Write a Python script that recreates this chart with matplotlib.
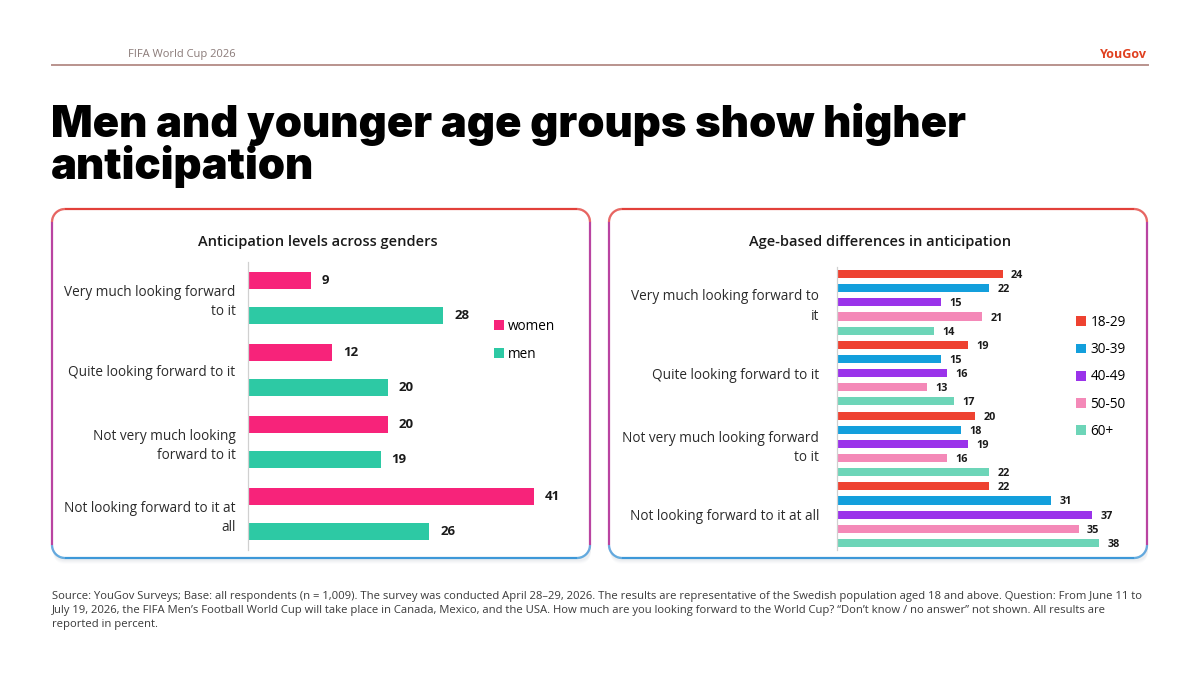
#!/usr/bin/env python3
"""YouGov style figure: anticipation of the 2026 World Cup by gender and age."""

import numpy as np
import matplotlib
matplotlib.use("Agg")
import matplotlib.pyplot as plt
from matplotlib.collections import LineCollection
from matplotlib.colors import LinearSegmentedColormap
from matplotlib.patches import FancyBboxPatch

# ---------------------------------------------------------------------------
# Data
# ---------------------------------------------------------------------------
gender_cats = [
    "Very much looking forward\nto it",
    "Quite looking forward to it",
    "Not very much looking\nforward to it",
    "Not looking forward to it at\nall",
]
women = [9, 12, 20, 41]
men = [28, 20, 19, 26]

age_cats = [
    "Very much looking forward to\nit",
    "Quite looking forward to it",
    "Not very much looking forward\nto it",
    "Not looking forward to it at all",
]
age_groups = ["18-29", "30-39", "40-49", "50-50", "60+"]
age_values = [
    [24, 19, 20, 22],   # 18-29
    [22, 15, 18, 31],   # 30-39
    [15, 16, 19, 37],   # 40-49
    [21, 13, 16, 35],   # 50-50
    [14, 17, 22, 38],   # 60+
]

gender_colors = ["#F7237A", "#2DC9A4"]
age_colors = ["#EE4231", "#139FDC", "#9A33EA", "#F489B8", "#6DD5B8"]

footnote = [
    "Source: YouGov Surveys; Base: all respondents (n = 1,009). The survey was conducted April 28\u201329, 2026. "
    "The results are representative of the Swedish population aged 18 and above. Question: From June 11 to",
    "July 19, 2026, the FIFA Men\u2019s Football World Cup will take place in Canada, Mexico, and the USA. "
    "How much are you looking forward to the World Cup? \u201cDon\u2019t know / no answer\u201d not shown. All results are",
    "reported in percent.",
]

BODY = ["Open Sans", "DejaVu Sans"]
W, H = 1200, 675


def fx(px):
    return px / W


def fy(py):
    return 1 - py / H


fig = plt.figure(figsize=(12, 6.75), dpi=100)
fig.patch.set_facecolor("white")

# -- Background layer in pixel coordinates ----------------------------------
bg = fig.add_axes([0, 0, 1, 1], zorder=0)
bg.set_xlim(0, W)
bg.set_ylim(H, 0)
bg.axis("off")

bg.plot([52, 1148], [65, 65], color="#B9938D", linewidth=1.4)

border_cmap = LinearSegmentedColormap.from_list(
    "border", ["#E2403A", "#D8407A", "#9B48C8", "#3D98D8"])


def rounded_rect_points(x0, y0, x1, y1, r, n=30):
    pts = []
    arcs = [
        (x1 - r, y0 + r, -90, 0),
        (x1 - r, y1 - r, 0, 90),
        (x0 + r, y1 - r, 90, 180),
        (x0 + r, y0 + r, 180, 270),
    ]
    for cx, cy, a0, a1 in arcs:
        for a in np.linspace(np.radians(a0), np.radians(a1), n):
            pts.append((cx + r * np.cos(a), cy + r * np.sin(a)))
    pts.append(pts[0])
    return np.array(pts)


def panel(x0, y0, x1, y1):
    # soft shadow
    for i, a in enumerate([0.05, 0.04, 0.03, 0.02]):
        sh = FancyBboxPatch((x0 + 1, y0 + 3 + i), x1 - x0, y1 - y0,
                            boxstyle="round,pad=0,rounding_size=13",
                            facecolor="#7A8A9A", edgecolor="none", alpha=a,
                            zorder=1)
        bg.add_patch(sh)
    box = FancyBboxPatch((x0, y0), x1 - x0, y1 - y0,
                         boxstyle="round,pad=0,rounding_size=13",
                         facecolor="white", edgecolor="none", zorder=2)
    bg.add_patch(box)
    pts = rounded_rect_points(x0, y0, x1, y1, 13)
    segs = np.stack([pts[:-1], pts[1:]], axis=1)
    ymid = (segs[:, 0, 1] + segs[:, 1, 1]) / 2
    cols = border_cmap((ymid - y0) / (y1 - y0))
    bg.add_collection(LineCollection(segs, colors=cols, linewidths=1.6,
                                     zorder=3))


panel(52, 209, 590, 558)
panel(609, 209, 1147, 558)

# -- Header and title --------------------------------------------------------
fig.text(fx(128), fy(55), "FIFA World Cup 2026", fontsize=8, color="#8A7A78",
         family=BODY, va="center")
fig.text(fx(1147), fy(54), "YouGov", fontsize=9, color="#E0401F",
         fontweight="bold", family=BODY, ha="right", va="center")
fig.text(fx(51), fy(103), "Men and younger age groups show higher\nanticipation",
         fontsize=31.4, fontweight="black", family=["Inter", "DejaVu Sans"],
         color="black", va="top", linespacing=0.98)

# -- Panel titles ------------------------------------------------------------
fig.text(fx(318), fy(242), "Anticipation levels across genders", fontsize=10.5,
         fontweight="semibold", family=BODY, ha="center", va="center",
         color="#1A1A1A")
fig.text(fx(880), fy(242), "Age-based differences in anticipation",
         fontsize=10.5, fontweight="semibold", family=BODY, ha="center",
         va="center", color="#1A1A1A")


def style_axis(ax, cats, pad):
    ax.set_facecolor("none")
    for s in ["top", "right", "bottom"]:
        ax.spines[s].set_visible(False)
    ax.spines["left"].set_color("#D0D0D0")
    ax.spines["left"].set_linewidth(0.9)
    ax.set_xticks([])
    ax.set_yticks(range(len(cats)))
    ax.set_yticklabels(cats, fontsize=9.8, color="#2A2A2A", family=BODY,
                       linespacing=1.4)
    ax.tick_params(axis="y", length=0, pad=pad)
    ax.set_ylim(len(cats) - 0.5, -0.5)


# -- Left chart: gender ------------------------------------------------------
ax1 = fig.add_axes([fx(248), fy(550), fx(293), 288 / H], zorder=5)
y = np.arange(len(gender_cats))
bh = 0.24
off = 0.243
b_w = ax1.barh(y - off, women, height=bh, color=gender_colors[0], label="women")
b_m = ax1.barh(y + off, men, height=bh, color=gender_colors[1], label="men")
for bars in (b_w, b_m):
    ax1.bar_label(bars, padding=8, fontsize=9.5, fontweight="bold",
                  family=BODY, color="#1A1A1A")
ax1.set_xlim(0, 42)
style_axis(ax1, gender_cats, 9)
ax1.legend(loc="upper left", bbox_to_anchor=(fx(494), fy(319)),
           bbox_transform=fig.transFigure, frameon=False,
           prop={"family": BODY, "size": 9.8}, handlelength=0.75,
           handleheight=0.75, handletextpad=0.3, labelspacing=0.95,
           borderaxespad=0, borderpad=0)

# -- Right chart: age --------------------------------------------------------
ax2 = fig.add_axes([fx(837), fy(550), fx(290), 283 / H], zorder=5)
y2 = np.arange(len(age_cats))
bh2 = 0.115
for k, (grp, vals) in enumerate(zip(age_groups, age_values)):
    bars = ax2.barh(y2 + (k - 2) * 0.2, vals, height=bh2, color=age_colors[k],
                    label=grp)
    labels = ax2.bar_label(bars, padding=6, fontsize=7.8, fontweight="bold",
                           family=BODY, color="#1A1A1A")
    for t in labels:
        t.set_va("center_baseline")
ax2.set_xlim(0, 42)
style_axis(ax2, age_cats, 13)
ax2.legend(loc="upper left", bbox_to_anchor=(fx(1076), fy(315)),
           bbox_transform=fig.transFigure, frameon=False,
           prop={"family": BODY, "size": 9.8}, handlelength=0.75,
           handleheight=0.75, handletextpad=0.3, labelspacing=0.9,
           borderaxespad=0, borderpad=0)

# -- Footnote ----------------------------------------------------------------
for i, line in enumerate(footnote):
    fig.text(fx(52), fy(596 + 14 * i), line, fontsize=8.1, color="#3A3A3A",
             family=BODY, va="center")

fig.savefig("out.png", dpi=100, facecolor="white")
